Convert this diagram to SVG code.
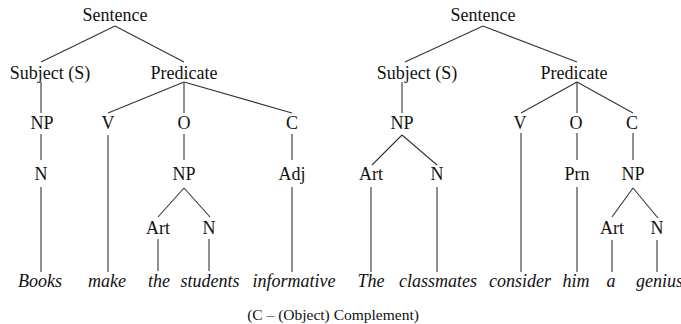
<svg xmlns="http://www.w3.org/2000/svg" width="681" height="324" viewBox="0 0 681 324">
<style>
text{font-family:"Liberation Serif",serif;font-size:18px;fill:#111;text-anchor:middle}
.w{font-style:italic}
.cap{font-size:15.5px}
#connectors line{stroke:#333;stroke-width:1.1}
</style>
<rect width="681" height="324" fill="#fff"/>
<g id="connectors">
<line x1="115" y1="26" x2="41" y2="62"/>
<line x1="115" y1="26" x2="184" y2="62"/>
<line x1="41" y1="82" x2="41" y2="113"/>
<line x1="184" y1="82" x2="108" y2="113"/>
<line x1="184" y1="82" x2="184" y2="113"/>
<line x1="184" y1="82" x2="292" y2="113"/>
<line x1="41" y1="134" x2="41" y2="160"/>
<line x1="108" y1="135" x2="108" y2="272"/>
<line x1="184" y1="134" x2="184" y2="160"/>
<line x1="292" y1="134" x2="292" y2="160"/>
<line x1="41" y1="187" x2="41" y2="272"/>
<line x1="184" y1="188" x2="158" y2="217"/>
<line x1="184" y1="188" x2="210" y2="217"/>
<line x1="292" y1="187" x2="292" y2="272"/>
<line x1="158" y1="239" x2="158" y2="271"/>
<line x1="209" y1="239" x2="209" y2="271"/>
<line x1="483" y1="26" x2="405" y2="62"/>
<line x1="483" y1="26" x2="577" y2="62"/>
<line x1="402" y1="82" x2="402" y2="113"/>
<line x1="577" y1="82" x2="521" y2="113"/>
<line x1="577" y1="82" x2="577" y2="113"/>
<line x1="577" y1="82" x2="633" y2="113"/>
<line x1="402" y1="135" x2="372" y2="165"/>
<line x1="402" y1="135" x2="437" y2="165"/>
<line x1="521" y1="133" x2="521" y2="272"/>
<line x1="577" y1="133" x2="577" y2="160"/>
<line x1="633" y1="133" x2="633" y2="160"/>
<line x1="371" y1="187" x2="371" y2="272"/>
<line x1="437" y1="187" x2="437" y2="272"/>
<line x1="577" y1="187" x2="577" y2="272"/>
<line x1="633" y1="188" x2="612" y2="217"/>
<line x1="633" y1="188" x2="658" y2="218"/>
<line x1="612" y1="240" x2="612" y2="272"/>
<line x1="657" y1="240" x2="657" y2="272"/>
</g>
<g id="L-sentence"><text x="115" y="21">Sentence</text></g>
<g id="L-subject"><text x="50" y="79">Subject (S)</text></g>
<g id="L-predicate"><text x="184" y="79">Predicate</text></g>
<g id="L-np1"><text x="42" y="129">NP</text></g>
<g id="L-v"><text x="108" y="129">V</text></g>
<g id="L-o"><text x="184" y="129">O</text></g>
<g id="L-c"><text x="292" y="129">C</text></g>
<g id="L-n1"><text x="41" y="180">N</text></g>
<g id="L-np2"><text x="184" y="180">NP</text></g>
<g id="L-adj"><text x="292" y="180">Adj</text></g>
<g id="L-art"><text x="158" y="234">Art</text></g>
<g id="L-n2"><text x="209" y="234">N</text></g>
<g id="L-books"><text class="w" x="40" y="287">Books</text></g>
<g id="L-make"><text class="w" x="107" y="287">make</text></g>
<g id="L-the"><text class="w" x="159" y="287">the</text></g>
<g id="L-students"><text class="w" x="210" y="287">students</text></g>
<g id="L-informative"><text class="w" x="294" y="287">informative</text></g>
<g id="R-sentence"><text x="483" y="21">Sentence</text></g>
<g id="R-subject"><text x="417" y="79">Subject (S)</text></g>
<g id="R-predicate"><text x="574" y="79">Predicate</text></g>
<g id="R-np1"><text x="402" y="129">NP</text></g>
<g id="R-v"><text x="520" y="129">V</text></g>
<g id="R-o"><text x="576" y="129">O</text></g>
<g id="R-c"><text x="632" y="129">C</text></g>
<g id="R-art1"><text x="371" y="180">Art</text></g>
<g id="R-n1"><text x="437" y="180">N</text></g>
<g id="R-prn"><text x="577" y="180">Prn</text></g>
<g id="R-np2"><text x="633" y="180">NP</text></g>
<g id="R-art2"><text x="612" y="234">Art</text></g>
<g id="R-n2"><text x="657" y="234">N</text></g>
<g id="R-the"><text class="w" x="371" y="287">The</text></g>
<g id="R-classmates"><text class="w" x="438" y="287">classmates</text></g>
<g id="R-consider"><text class="w" x="520" y="287">consider</text></g>
<g id="R-him"><text class="w" x="576" y="287">him</text></g>
<g id="R-a"><text class="w" x="611" y="287">a</text></g>
<g id="R-genius"><text class="w" x="636" y="287" style="text-anchor:start">genius</text></g>
<g id="caption"><text class="cap" x="333" y="320">(C – (Object) Complement)</text></g>
</svg>
